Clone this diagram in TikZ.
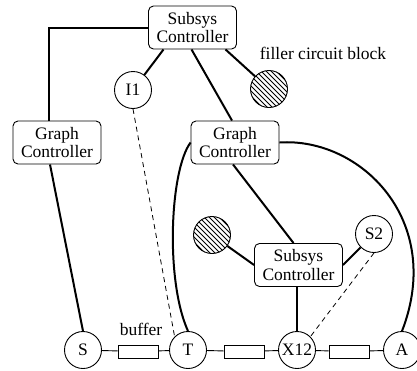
\documentclass[tikz,border=0pt]{standalone}
\usepackage{fontspec}
\setmainfont{Liberation Serif}
\begin{document}
\begin{tikzpicture}[x=1pt,y=-1pt,
  every node/.style={font=\fontsize{17.5}{18.5}\selectfont},
  ctrl/.style={draw, line width=0.9pt, rounded corners=5pt, minimum width=88pt, minimum height=43pt, inner sep=1pt, align=center},
  port/.style={draw, circle, line width=0.9pt, minimum size=37pt, inner sep=0pt},
  buf/.style={draw, line width=0.9pt, minimum width=40pt, minimum height=13pt, inner sep=0pt},
  hatch/.style={circle, draw, line width=0.9pt, minimum size=37pt, inner sep=0pt,
    path picture={\begin{scope}[shift={(path picture bounding box.center)}]
      \foreach \a in {-27.5,-25,...,27.5}{\draw[line width=0.8pt] ({\a-24},{-(\a)-24}) -- ({\a+24},{-(\a)+24});}
    \end{scope}}},
  link/.style={line width=2pt},
  thin/.style={line width=0.9pt},
  dlink/.style={line width=0.8pt, dash pattern=on 5pt off 4pt}]
\useasboundingbox (0,0) rectangle (417,370);
\node[ctrl] (topC) at (192.5,27.5) {Subsys\\Controller};
\node[ctrl] (lgraph) at (57,142.5) {Graph\\Controller};
\node[ctrl] (rgraph) at (235,142.5) {Graph\\Controller};
\node[ctrl] (bsub) at (298.5,265) {Subsys\\Controller};
\node[port] (I1) at (133,90) {I1};
\node[hatch] (f1) at (269,89) {};
\node (flabel) at (323,53) {filler circuit block};
\node[hatch] (f2) at (212,235) {};
\node[port] (S2) at (374,234) {S2};
\node[port] (S) at (83,350) {S};
\node[port] (T) at (188,350) {T};
\node[port] (X12) at (297,350) {X12};
\node[port] (A) at (402,350) {A};
\node[buf] (b1) at (138,351.5) {};
\node[buf] (b2) at (244,351.5) {};
\node[buf] (b3) at (349,351.5) {};
\node (blabel) at (141,329) {buffer};
% thick links
\draw[link] (topC.west) -| ([xshift=-8pt]lgraph.north);
\draw[link] ([xshift=-29pt]topC.south) -- (I1);
\draw[link] ([xshift=33pt]topC.south) -- (f1);
\draw[link] ([xshift=-1pt]topC.south) -- ([xshift=-3pt]rgraph.north);
\draw[link] ([xshift=-2pt]rgraph.south) -- ([xshift=-5pt]bsub.north);
\draw[link] (rgraph.east) .. controls (360,137) and (445,220) .. (A.north);
\draw[link] (rgraph.west) .. controls (170,170) and (165,280) .. (T.north);
\draw[link] ([xshift=-7pt]lgraph.south) -- (S.north);
\draw[link] (bsub.east) -- (S2);
\draw[link] (f2) -- (bsub.west);
\draw[link] (bsub.south -| X12) -- (X12);
% dashed
\draw[dlink] (I1.south) -- (T.north west);
\draw[dlink] (S2.south) -- (X12.north east);
% thin chain
\draw[thin] (S) -- (b1) -- (T) -- (b2) -- (X12) -- (b3) -- (A);
\end{tikzpicture}
\end{document}
